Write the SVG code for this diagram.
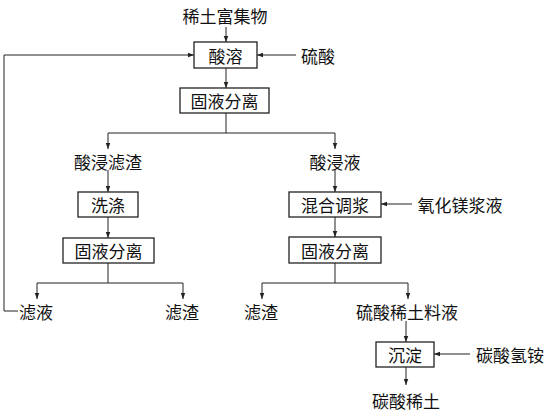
<svg xmlns="http://www.w3.org/2000/svg" width="550" height="415" viewBox="0 0 550 415">
<style>
.bx{fill:#fff;stroke:#222;stroke-width:1.3}
.ln{fill:none;stroke:#222;stroke-width:1}
.t{font-family:"Noto Sans CJK SC","Noto Sans CJK JP",sans-serif;font-size:17px;fill:#111;text-anchor:middle;dominant-baseline:central}
</style>
<defs>
<marker id="a" viewBox="0 0 8 8" refX="8" refY="4" markerWidth="6" markerHeight="6" orient="auto" markerUnits="userSpaceOnUse">
<path d="M0,1 L8,4 L0,7 Z" fill="#222"/>
</marker>
</defs>
<rect width="550" height="415" fill="#fff"/>
<g id="connectors">
<path class="ln" d="M226,27 V42" marker-end="url(#a)"/>
<path class="ln" d="M296,55 H257" marker-end="url(#a)"/>
<path class="ln" d="M18,311 H4 V55 H194" marker-end="url(#a)"/>
<path class="ln" d="M226,68 V88" marker-end="url(#a)"/>
<path class="ln" d="M226,113 V133"/>
<path class="ln" d="M108,133 H335"/>
<path class="ln" d="M108,133 V149" marker-end="url(#a)"/>
<path class="ln" d="M335,133 V149" marker-end="url(#a)"/>
<path class="ln" d="M108,170 V192" marker-end="url(#a)"/>
<path class="ln" d="M108,217 V238" marker-end="url(#a)"/>
<path class="ln" d="M108,263 V283 M37,283 H183"/>
<path class="ln" d="M37,283 V299" marker-end="url(#a)"/>
<path class="ln" d="M183,283 V299" marker-end="url(#a)"/>
<path class="ln" d="M335,170 V192" marker-end="url(#a)"/>
<path class="ln" d="M412,204 H381" marker-end="url(#a)"/>
<path class="ln" d="M335,217 V237" marker-end="url(#a)"/>
<path class="ln" d="M335,263 V283 M262,283 H408"/>
<path class="ln" d="M262,283 V299" marker-end="url(#a)"/>
<path class="ln" d="M408,283 V299" marker-end="url(#a)"/>
<path class="ln" d="M406,321 V342" marker-end="url(#a)"/>
<path class="ln" d="M470,354 H434" marker-end="url(#a)"/>
<path class="ln" d="M406,367 V385" marker-end="url(#a)"/>
</g>
<g id="n-feed"><text class="t" x="225" y="15">稀土富集物</text></g>
<g id="n-acid"><text class="t" x="318" y="55">硫酸</text></g>
<g id="n-dissolve"><rect class="bx" x="194" y="42" width="63" height="26"/><text class="t" x="225.5" y="55">酸溶</text></g>
<g id="n-sep1"><rect class="bx" x="180" y="88" width="89" height="25"/><text class="t" x="224.5" y="100.5">固液分离</text></g>
<g id="n-residue1"><text class="t" x="108" y="161">酸浸滤渣</text></g>
<g id="n-leach"><text class="t" x="335" y="161">酸浸液</text></g>
<g id="n-wash"><rect class="bx" x="78" y="192" width="60" height="25"/><text class="t" x="108" y="204.5">洗涤</text></g>
<g id="n-sep2"><rect class="bx" x="63" y="238" width="91" height="25"/><text class="t" x="108.5" y="250.5">固液分离</text></g>
<g id="n-filtrate"><text class="t" x="36" y="311">滤液</text></g>
<g id="n-residue2"><text class="t" x="182" y="311">滤渣</text></g>
<g id="n-mix"><rect class="bx" x="289" y="192" width="92" height="25"/><text class="t" x="335" y="204.5">混合调浆</text></g>
<g id="n-mgo"><text class="t" x="460" y="204">氧化镁浆液</text></g>
<g id="n-sep3"><rect class="bx" x="289" y="237" width="92" height="26"/><text class="t" x="335" y="250">固液分离</text></g>
<g id="n-residue3"><text class="t" x="261" y="311">滤渣</text></g>
<g id="n-re-sulfate"><text class="t" x="407" y="311">硫酸稀土料液</text></g>
<g id="n-precip"><rect class="bx" x="376" y="342" width="58" height="25"/><text class="t" x="405" y="354.5">沉淀</text></g>
<g id="n-nh4"><text class="t" x="510" y="354">碳酸氢铵</text></g>
<g id="n-product"><text class="t" x="406" y="400">碳酸稀土</text></g>
</svg>
